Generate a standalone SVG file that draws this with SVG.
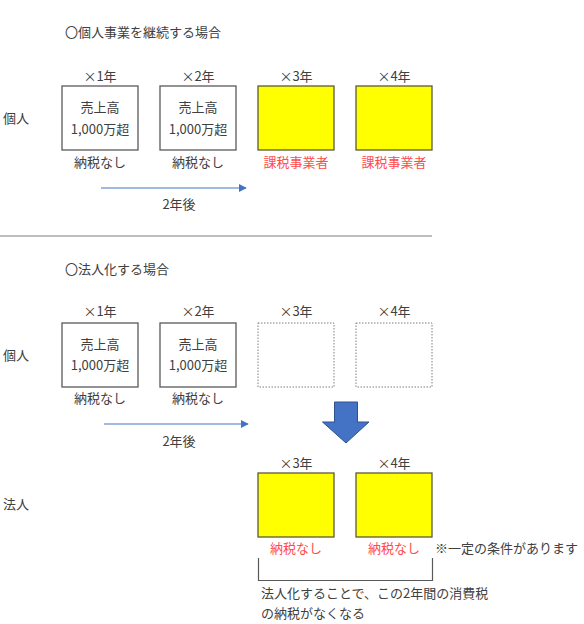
<svg xmlns="http://www.w3.org/2000/svg" width="584" height="624" viewBox="0 0 584 624">
<style>
text{font-family:"Noto Sans CJK JP","Noto Sans",sans-serif;font-size:13px;fill:#404040}
.c{text-anchor:middle}
.r{fill:#FF4B4B}
.box{fill:#fff;stroke:#595959;stroke-width:1.3}
.dot{fill:#fff;stroke:#7f7f7f;stroke-width:1;stroke-dasharray:1.5 1.5}
.yel{fill:#FFFF00;stroke:#5a5a3c;stroke-width:1.3}
.ln{stroke:#4472C4;stroke-width:1;fill:none}
</style>
<defs>
<marker id="ah" viewBox="0 0 10 10" refX="9" refY="5" markerWidth="8" markerHeight="8" markerUnits="userSpaceOnUse" orient="auto">
<path d="M0,0 L10,5 L0,10 z" fill="#4472C4"/>
</marker>
</defs>
<g id="titles">
<text x="65" y="37">〇個人事業を継続する場合</text>
<text x="65" y="274">〇法人化する場合</text>
<text x="3" y="123">個人</text>
<text x="3" y="360">個人</text>
<text x="3" y="509">法人</text>
</g>
<g id="s1y1"><text class="c" x="100" y="81">×1年</text><rect class="box" x="62" y="86" width="76" height="64"/><text class="c" x="100" y="112">売上高</text><text class="c" x="100" y="134">1,000万超</text><text class="c" x="100" y="167">納税なし</text></g>
<g id="s1y2"><text class="c" x="198" y="81">×2年</text><rect class="box" x="160" y="86" width="76" height="64"/><text class="c" x="198" y="112">売上高</text><text class="c" x="198" y="134">1,000万超</text><text class="c" x="198" y="167">納税なし</text></g>
<g id="s1y3"><text class="c" x="296" y="81">×3年</text><rect class="yel" x="258" y="86" width="76" height="64"/><text class="c r" x="296" y="167">課税事業者</text></g>
<g id="s1y4"><text class="c" x="394" y="81">×4年</text><rect class="yel" x="356" y="86" width="76" height="64"/><text class="c r" x="394" y="167">課税事業者</text></g>
<g id="s1lab"><text class="c" x="179" y="209">2年後</text></g>
<g id="s2y1"><text class="c" x="100" y="316">×1年</text><rect class="box" x="62" y="323" width="76" height="64"/><text class="c" x="100" y="349">売上高</text><text class="c" x="100" y="370">1,000万超</text><text class="c" x="100" y="403">納税なし</text></g>
<g id="s2y2"><text class="c" x="198" y="316">×2年</text><rect class="box" x="160" y="323" width="76" height="64"/><text class="c" x="198" y="349">売上高</text><text class="c" x="198" y="370">1,000万超</text><text class="c" x="198" y="403">納税なし</text></g>
<g id="s2y3"><text class="c" x="296" y="316">×3年</text><rect class="dot" x="258" y="323" width="76" height="64"/></g>
<g id="s2y4"><text class="c" x="394" y="316">×4年</text><rect class="dot" x="356" y="323" width="76" height="64"/></g>
<g id="s2lab"><text class="c" x="179" y="446">2年後</text></g>
<g id="bigarrow"><path d="M334.5,402 L357.5,402 L357.5,422 L369,422 L346,443 L322.5,422 L334.5,422 Z" fill="#4472C4" stroke="#2F528F" stroke-width="1"/></g>
<g id="c3"><text class="c" x="296" y="468">×3年</text><rect class="yel" x="258" y="473" width="76" height="64"/><text class="c r" x="296" y="553">納税なし</text></g>
<g id="c4"><text class="c" x="394" y="468">×4年</text><rect class="yel" x="356" y="473" width="76" height="64"/><text class="c r" x="394" y="553">納税なし</text></g>
<g id="notes">
<text x="435" y="553">※一定の条件があります</text>
<text x="261" y="598">法人化することで、この2年間の消費税</text>
<text x="261" y="618">の納税がなくなる</text>
</g>
<g id="connectors">
<line x1="101" y1="188" x2="246" y2="188" class="ln" marker-end="url(#ah)"/>
<line x1="104" y1="424" x2="248" y2="424" class="ln" marker-end="url(#ah)"/>
<line x1="0" y1="236" x2="432" y2="236" stroke="#7f7f7f" stroke-width="1"/>
<path d="M258.5,558 V580.5 H432.5 V558" fill="none" stroke="#595959" stroke-width="1.2"/>
</g>
</svg>
